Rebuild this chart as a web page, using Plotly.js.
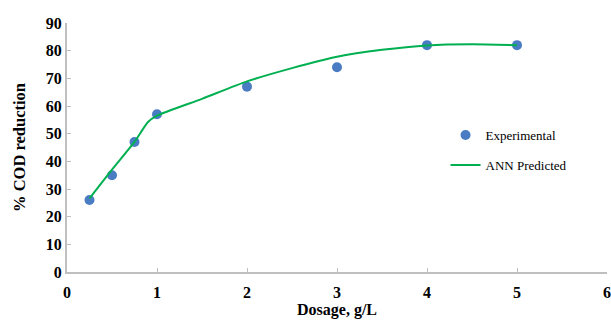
<!DOCTYPE html>
<html>
<head>
<meta charset="utf-8">
<script src="https://cdn.plot.ly/plotly-3.0.1.min.js"></script>
<style>html,body{margin:0;padding:0;background:#fff}#chart{width:611px;height:322px}</style>
</head>
<body>
<div id="chart"></div>
<script>
// Experimental data
const expDosage = [0.25, 0.5, 0.75, 1, 2, 3, 4, 5];
const expCOD = [26, 35, 47, 57, 67, 74, 82, 82];
// ANN predicted curve
const annDosage = [0.25, 0.5, 0.75, 0.9, 1, 1.5, 2, 2.5, 3, 3.5, 4, 4.5, 5];
const annCOD = [26.6, 37, 47, 54.2, 56.5, 62.6, 68.9, 73.7, 77.8, 80.3, 81.9, 82.3, 82];
const xTicks = [0, 1, 2, 3, 4, 5, 6];
const yTicks = [0, 10, 20, 30, 40, 50, 60, 70, 80, 90];

const serif = "Liberation Serif, Times New Roman, serif";
const traces = [
  {x: expDosage, y: expCOD, mode: 'markers', type: 'scatter', name: 'Experimental',
   legendgroup: 'a', marker: {color: '#4A7CC4', size: 10}},
  {x: annDosage, y: annCOD, mode: 'lines', type: 'scatter', name: 'ANN Predicted',
   legendgroup: 'b', line: {color: '#00B050', width: 2, shape: 'spline', smoothing: 0.6}}
];
const layout = {
  width: 611, height: 322,
  margin: {l: 67, r: 4, t: 23, b: 50},
  paper_bgcolor: '#fff', plot_bgcolor: '#fff',
  font: {family: serif, color: '#000'},
  showlegend: true,
  legend: {x: 0.701, y: 0.61, xanchor: 'left', yanchor: 'top', traceorder: 'grouped',
    tracegroupgap: 10, font: {family: serif, size: 13, color: '#000'}, bgcolor: 'rgba(0,0,0,0)'},
  xaxis: {range: [0, 6], tickvals: xTicks, ticktext: xTicks.map(String), showgrid: false, zeroline: false,
    showline: true, linecolor: '#BFBFBF', linewidth: 2, ticks: 'inside', ticklen: 4, tickcolor: '#BFBFBF',
    ticklabelstandoff: 5,
    tickfont: {family: serif, size: 16, color: '#000', weight: 'bold'},
    title: {text: '<b>Dosage, g/L</b>', font: {family: serif, size: 16, color: '#000'}, standoff: 3}},
  yaxis: {range: [0, 90], tickvals: yTicks, ticktext: yTicks.map(String), showgrid: false, zeroline: false,
    showline: true, linecolor: '#BFBFBF', linewidth: 2, ticks: 'inside', ticklen: 4, tickcolor: '#BFBFBF',
    tickfont: {family: serif, size: 16, color: '#000', weight: 'bold'},
    title: {text: '<b>% COD reduction</b>', font: {family: serif, size: 16.5, color: '#000'}, standoff: 16}}
};
Plotly.newPlot('chart', traces, layout, {staticPlot: true, displayModeBar: false});
</script>
</body>
</html>
